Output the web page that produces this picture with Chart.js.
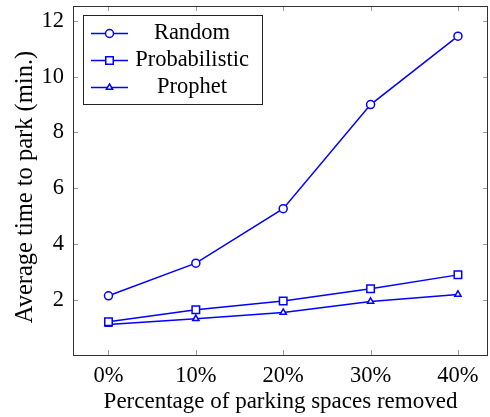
<!DOCTYPE html>
<html>
<head>
<meta charset="utf-8">
<script src="https://cdn.jsdelivr.net/npm/chart.js@4.4.1/dist/chart.umd.min.js"></script>
<style>
    html, body { margin: 0; padding: 0; background: #fff; }
    #wrap { width: 490px; height: 417px; }
</style>
</head>
<body>
<div id="wrap"><canvas id="myChart"></canvas></div>
<script>
const removedPct = [0, 10, 20, 30, 40];
const randomTimes = [2.15, 3.32, 5.27, 9.0, 11.45];
const probabilisticTimes = [1.22, 1.65, 1.96, 2.4, 2.9];
const prophetTimes = [1.12, 1.33, 1.55, 1.95, 2.2];
const yTicks = [2, 4, 6, 8, 10, 12];
const seriesNames = ['Random', 'Probabilistic', 'Prophet'];
const yTitle = 'Average time to park (min.)';

const FONT = "'Liberation Serif', 'Times New Roman', serif";
const FONT_SIZE = 22.5;
const BLUE = 'rgb(0, 0, 255)';

function toPoints(values) {
    return removedPct.map((x, i) => ({ x: x, y: values[i] }));
}

function drawMarker(ctx, style, x, y, r) {
    ctx.beginPath();
    if (style === 'circle') {
        ctx.arc(x, y, r, 0, Math.PI * 2);
    } else if (style === 'rect') {
        let s = Math.SQRT1_2 * r;
        ctx.rect(x - s, y - s, 2 * s, 2 * s);
    } else if (style === 'triangle') {
        let rad = -Math.PI / 2;
        ctx.moveTo(x + Math.cos(rad) * r, y + Math.sin(rad) * r);
        rad += Math.PI * 2 / 3;
        ctx.lineTo(x + Math.cos(rad) * r, y + Math.sin(rad) * r);
        rad += Math.PI * 2 / 3;
        ctx.lineTo(x + Math.cos(rad) * r, y + Math.sin(rad) * r);
        ctx.closePath();
    }
    ctx.fill();
    ctx.stroke();
}

// pgfplots style frame with inward tick marks, plus the rotated y title
const framePlugin = {
    id: 'frame',
    afterDatasetsDraw(chart) {
        const { ctx, chartArea: a, scales } = chart;
        ctx.save();
        ctx.strokeStyle = '#9a9a9a';
        ctx.lineWidth = 1;
        ctx.beginPath();
        removedPct.forEach(v => {
            let px = Math.round(scales.x.getPixelForValue(v)) + 0.5;
            ctx.moveTo(px, a.bottom); ctx.lineTo(px, a.bottom - 5);
            ctx.moveTo(px, a.top); ctx.lineTo(px, a.top + 5);
        });
        yTicks.forEach(v => {
            let py = Math.round(scales.y.getPixelForValue(v)) + 0.5;
            ctx.moveTo(a.left, py); ctx.lineTo(a.left + 5, py);
            ctx.moveTo(a.right, py); ctx.lineTo(a.right - 5, py);
        });
        ctx.stroke();
        ctx.strokeStyle = '#333';
        ctx.strokeRect(Math.round(a.left) + 0.5, Math.round(a.top) + 0.5,
            Math.round(a.right - a.left) - 1, Math.round(a.bottom - a.top));

        ctx.translate(32, 187);
        ctx.rotate(-Math.PI / 2);
        ctx.fillStyle = '#000';
        ctx.font = '24.5px ' + FONT;
        ctx.textAlign = 'center';
        ctx.textBaseline = 'alphabetic';
        ctx.fillText(yTitle, 0, 0);
        ctx.restore();
    }
};

// legend box drawn inside the plot, like the pgfplots one
const boxLegend = {
    id: 'boxLegend',
    afterDraw(chart) {
        const ctx = chart.ctx;
        const left = 83, top = 15, width = 179, height = 89;
        ctx.save();
        ctx.fillStyle = '#fff';
        ctx.fillRect(left, top, width, height);
        ctx.strokeStyle = '#222';
        ctx.lineWidth = 1;
        ctx.strokeRect(left + 0.5, top + 0.5, width, height);
        chart.data.datasets.forEach((ds, i) => {
            let y = 33.5 + i * 27;
            ctx.strokeStyle = ds.borderColor;
            ctx.lineWidth = 1.5;
            ctx.beginPath();
            ctx.moveTo(91, y);
            ctx.lineTo(128, y);
            ctx.stroke();
            ctx.fillStyle = '#fff';
            drawMarker(ctx, ds.pointStyle, 109.5, y, ds.pointRadius);
            ctx.fillStyle = '#000';
            ctx.font = FONT_SIZE + 'px ' + FONT;
            ctx.textAlign = 'center';
            ctx.textBaseline = 'middle';
            ctx.fillText(ds.label, 192, y);
        });
        ctx.restore();
    }
};

function makeDataset(label, values, style, radius) {
    return {
        label: label,
        data: toPoints(values),
        borderColor: BLUE,
        backgroundColor: '#fff',
        borderWidth: 1.5,
        pointStyle: style,
        pointRadius: radius,
        pointBorderWidth: 1.5,
        pointBackgroundColor: '#fff',
        pointBorderColor: BLUE,
        tension: 0
    };
}

let ctx = document.getElementById('myChart').getContext('2d');
let myChart = new Chart(ctx, {
    type: 'line',
    data: {
        datasets: [
            makeDataset(seriesNames[0], randomTimes, 'circle', 4),
            makeDataset(seriesNames[1], probabilisticTimes, 'rect', 5.3),
            makeDataset(seriesNames[2], prophetTimes, 'triangle', 3.6)
        ]
    },
    options: {
        responsive: true,
        maintainAspectRatio: false,
        animation: false,
        layout: { autoPadding: false, padding: { left: 0, right: 2, top: 6, bottom: 0 } },
        plugins: {
            legend: { display: false },
            tooltip: { enabled: false }
        },
        scales: {
            x: {
                type: 'linear',
                min: -4.06,
                max: 43.44,
                afterBuildTicks: scale => { scale.ticks = removedPct.map(v => ({ value: v })); },
                afterFit: scale => {
                    scale.height = 62;
                    scale.paddingLeft = 0;
                    scale.paddingRight = 0;
                },
                grid: { display: false, drawTicks: false },
                border: { display: false },
                ticks: {
                    padding: 8,
                    color: '#000',
                    font: { family: FONT, size: FONT_SIZE },
                    callback: v => v + '%'
                },
                title: {
                    display: true,
                    text: 'Percentage of parking spaces removed',
                    color: '#000',
                    font: { family: FONT, size: 23 },
                    padding: { top: 0, bottom: 1 }
                }
            },
            y: {
                min: 0.03,
                max: 12.53,
                afterBuildTicks: scale => { scale.ticks = yTicks.map(v => ({ value: v })); },
                afterFit: scale => {
                    scale.width = 73;
                    scale.paddingTop = 0;
                    scale.paddingBottom = 0;
                },
                grid: { display: false, drawTicks: false },
                border: { display: false },
                ticks: {
                    padding: 9,
                    color: '#000',
                    font: { family: FONT, size: FONT_SIZE }
                },
                title: { display: false, text: yTitle }
            }
        }
    },
    plugins: [framePlugin, boxLegend]
});
</script>
</body>
</html>
